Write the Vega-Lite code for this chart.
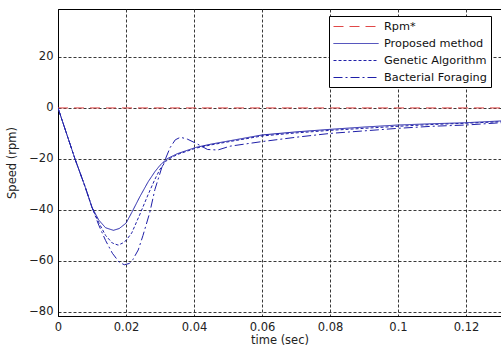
{
  "$schema": "https://vega.github.io/schema/vega-lite/v6.json",
  "autosize": "none",
  "width": 443,
  "height": 307,
  "padding": {"left": 58, "top": 9, "right": 0, "bottom": 35},
  "background": "white",
  "config": {
    "font": "DejaVu Sans",
    "view": {"stroke": "black", "strokeWidth": 1},
    "axis": {
      "labelFont": "DejaVu Sans",
      "titleFont": "DejaVu Sans",
      "labelFontSize": 11.5,
      "titleFontSize": 11.5,
      "titleFontWeight": "normal",
      "labelColor": "#222",
      "titleColor": "#222",
      "domainColor": "black",
      "grid": true,
      "gridColor": "#222",
      "gridDash": [3, 2],
      "gridOpacity": 0.9,
      "ticks": false
    }
  },
  "data": {
    "values": [
      {"series": "Rpm*", "t": 0, "v": 0},
      {"series": "Rpm*", "t": 0.1303, "v": 0},
      {"series": "Proposed method", "t": 0, "v": 0},
      {"series": "Proposed method", "t": 0.002, "v": -8},
      {"series": "Proposed method", "t": 0.005, "v": -20},
      {"series": "Proposed method", "t": 0.008, "v": -31},
      {"series": "Proposed method", "t": 0.010, "v": -39},
      {"series": "Proposed method", "t": 0.012, "v": -44},
      {"series": "Proposed method", "t": 0.014, "v": -47},
      {"series": "Proposed method", "t": 0.0163, "v": -48},
      {"series": "Proposed method", "t": 0.018, "v": -47.3},
      {"series": "Proposed method", "t": 0.020, "v": -45.2},
      {"series": "Proposed method", "t": 0.0217, "v": -41},
      {"series": "Proposed method", "t": 0.024, "v": -35},
      {"series": "Proposed method", "t": 0.0265, "v": -29},
      {"series": "Proposed method", "t": 0.0285, "v": -25},
      {"series": "Proposed method", "t": 0.030, "v": -22.5},
      {"series": "Proposed method", "t": 0.032, "v": -20},
      {"series": "Proposed method", "t": 0.035, "v": -18},
      {"series": "Proposed method", "t": 0.0405, "v": -15.5},
      {"series": "Proposed method", "t": 0.045, "v": -14.2},
      {"series": "Proposed method", "t": 0.05, "v": -13},
      {"series": "Proposed method", "t": 0.06, "v": -10.6},
      {"series": "Proposed method", "t": 0.07, "v": -9.4},
      {"series": "Proposed method", "t": 0.08, "v": -8.4},
      {"series": "Proposed method", "t": 0.09, "v": -7.5},
      {"series": "Proposed method", "t": 0.1, "v": -6.7},
      {"series": "Proposed method", "t": 0.11, "v": -6.2},
      {"series": "Proposed method", "t": 0.12, "v": -5.8},
      {"series": "Proposed method", "t": 0.1303, "v": -5.1},
      {"series": "Genetic Algorithm", "t": 0, "v": 0},
      {"series": "Genetic Algorithm", "t": 0.002, "v": -8},
      {"series": "Genetic Algorithm", "t": 0.005, "v": -20},
      {"series": "Genetic Algorithm", "t": 0.008, "v": -31},
      {"series": "Genetic Algorithm", "t": 0.010, "v": -39},
      {"series": "Genetic Algorithm", "t": 0.012, "v": -45},
      {"series": "Genetic Algorithm", "t": 0.014, "v": -50},
      {"series": "Genetic Algorithm", "t": 0.016, "v": -53},
      {"series": "Genetic Algorithm", "t": 0.0177, "v": -53.8},
      {"series": "Genetic Algorithm", "t": 0.019, "v": -53},
      {"series": "Genetic Algorithm", "t": 0.020, "v": -52},
      {"series": "Genetic Algorithm", "t": 0.0217, "v": -49},
      {"series": "Genetic Algorithm", "t": 0.024, "v": -42},
      {"series": "Genetic Algorithm", "t": 0.0265, "v": -34},
      {"series": "Genetic Algorithm", "t": 0.0285, "v": -28},
      {"series": "Genetic Algorithm", "t": 0.030, "v": -24},
      {"series": "Genetic Algorithm", "t": 0.032, "v": -20.5},
      {"series": "Genetic Algorithm", "t": 0.035, "v": -18.3},
      {"series": "Genetic Algorithm", "t": 0.0405, "v": -15.8},
      {"series": "Genetic Algorithm", "t": 0.045, "v": -14.5},
      {"series": "Genetic Algorithm", "t": 0.05, "v": -13.3},
      {"series": "Genetic Algorithm", "t": 0.06, "v": -11},
      {"series": "Genetic Algorithm", "t": 0.07, "v": -9.8},
      {"series": "Genetic Algorithm", "t": 0.08, "v": -8.8},
      {"series": "Genetic Algorithm", "t": 0.09, "v": -8},
      {"series": "Genetic Algorithm", "t": 0.1, "v": -7.2},
      {"series": "Genetic Algorithm", "t": 0.11, "v": -6.5},
      {"series": "Genetic Algorithm", "t": 0.12, "v": -6},
      {"series": "Genetic Algorithm", "t": 0.1303, "v": -5.4},
      {"series": "Bacterial Foraging", "t": 0, "v": 0},
      {"series": "Bacterial Foraging", "t": 0.002, "v": -8},
      {"series": "Bacterial Foraging", "t": 0.005, "v": -20},
      {"series": "Bacterial Foraging", "t": 0.008, "v": -31},
      {"series": "Bacterial Foraging", "t": 0.010, "v": -39},
      {"series": "Bacterial Foraging", "t": 0.012, "v": -46},
      {"series": "Bacterial Foraging", "t": 0.014, "v": -52},
      {"series": "Bacterial Foraging", "t": 0.016, "v": -57},
      {"series": "Bacterial Foraging", "t": 0.018, "v": -60.5},
      {"series": "Bacterial Foraging", "t": 0.0195, "v": -61.5},
      {"series": "Bacterial Foraging", "t": 0.021, "v": -61},
      {"series": "Bacterial Foraging", "t": 0.022, "v": -59.5},
      {"series": "Bacterial Foraging", "t": 0.0236, "v": -55.7},
      {"series": "Bacterial Foraging", "t": 0.025, "v": -50},
      {"series": "Bacterial Foraging", "t": 0.027, "v": -41},
      {"series": "Bacterial Foraging", "t": 0.0285, "v": -32},
      {"series": "Bacterial Foraging", "t": 0.0305, "v": -23.5},
      {"series": "Bacterial Foraging", "t": 0.033, "v": -15.5},
      {"series": "Bacterial Foraging", "t": 0.0345, "v": -12.5},
      {"series": "Bacterial Foraging", "t": 0.036, "v": -11.5},
      {"series": "Bacterial Foraging", "t": 0.038, "v": -12.2},
      {"series": "Bacterial Foraging", "t": 0.0405, "v": -13.8},
      {"series": "Bacterial Foraging", "t": 0.044, "v": -16.3},
      {"series": "Bacterial Foraging", "t": 0.047, "v": -16.5},
      {"series": "Bacterial Foraging", "t": 0.0506, "v": -15},
      {"series": "Bacterial Foraging", "t": 0.06, "v": -13.2},
      {"series": "Bacterial Foraging", "t": 0.07, "v": -11.5},
      {"series": "Bacterial Foraging", "t": 0.08, "v": -10},
      {"series": "Bacterial Foraging", "t": 0.09, "v": -9},
      {"series": "Bacterial Foraging", "t": 0.1, "v": -8},
      {"series": "Bacterial Foraging", "t": 0.11, "v": -7.2},
      {"series": "Bacterial Foraging", "t": 0.12, "v": -6.7},
      {"series": "Bacterial Foraging", "t": 0.1303, "v": -5.8}
    ]
  },
  "mark": {"type": "line", "strokeWidth": 1, "clip": true},
  "encoding": {
    "x": {
      "field": "t", "type": "quantitative",
      "scale": {"domain": [0, 0.1303], "nice": false, "zero": false},
      "axis": {"values": [0, 0.02, 0.04, 0.06, 0.08, 0.1, 0.12], "format": "~g", "title": "time (sec)", "labelPadding": 5, "titlePadding": 2, "labelFlush": false}
    },
    "y": {
      "field": "v", "type": "quantitative",
      "scale": {"domain": [-81.6, 38.8], "nice": false, "zero": false},
      "axis": {"values": [-80, -60, -40, -20, 0, 20], "title": "Speed (rpm)", "labelPadding": 5, "titlePadding": 11, "labelFlush": false}
    },
    "color": {
      "field": "series", "type": "nominal",
      "scale": {
        "domain": ["Rpm*", "Proposed method", "Genetic Algorithm", "Bacterial Foraging"],
        "range": ["#e04848", "#1f1fa8", "#1f1fa8", "#1f1fa8"]
      },
      "legend": {
        "title": null,
        "orient": "none",
        "legendX": 271,
        "legendY": 7,
        "symbolType": "M-3.75,0H3.75",
        "symbolSize": 144,
        "symbolOffset": 16.5,
        "symbolStrokeWidth": 1,
        "labelFontSize": 11.3,
        "labelFont": "DejaVu Sans",
        "labelColor": "#111",
        "labelOffset": 21.5,
        "rowPadding": 5,
        "padding": 4,
        "strokeColor": "black",
        "fillColor": "white",
        "encode": {"symbols": {"update": {"stroke": {"scale": "color", "field": "value"}, "fill": {"value": "transparent"}}}}
      }
    },
    "strokeDash": {
      "field": "series", "type": "nominal",
      "scale": {
        "domain": ["Rpm*", "Proposed method", "Genetic Algorithm", "Bacterial Foraging"],
        "range": [[10, 6], [1, 0], [3, 2], [9, 3, 2, 3]]
      },
      "legend": {
        "title": null,
        "orient": "none",
        "legendX": 271,
        "legendY": 7,
        "symbolType": "M-3.75,0H3.75",
        "symbolSize": 144,
        "symbolOffset": 16.5,
        "symbolStrokeWidth": 1,
        "labelFontSize": 11.3,
        "labelFont": "DejaVu Sans",
        "labelColor": "#111",
        "labelOffset": 21.5,
        "rowPadding": 5,
        "padding": 4,
        "strokeColor": "black",
        "fillColor": "white",
        "encode": {"symbols": {"update": {"stroke": {"scale": "color", "field": "value"}, "fill": {"value": "transparent"}}}}
      }
    }
  }
}
